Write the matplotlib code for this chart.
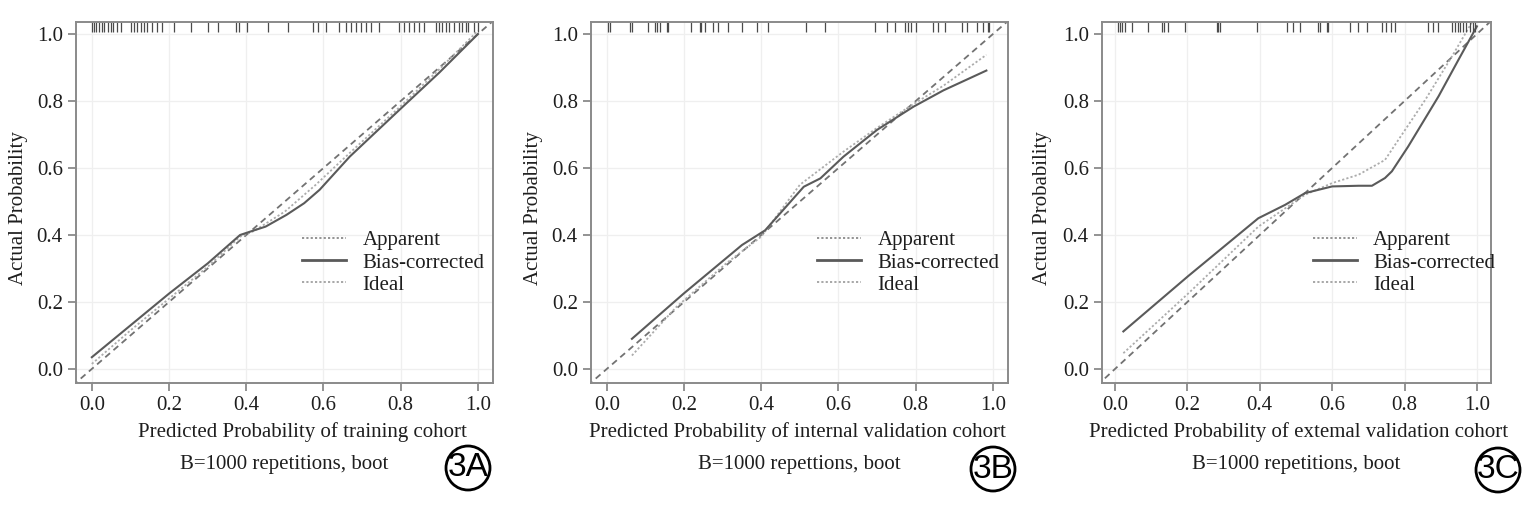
import numpy as np
import matplotlib
matplotlib.use("Agg")
import matplotlib.pyplot as plt
from matplotlib.patches import Ellipse
from matplotlib.lines import Line2D

plt.rcParams['font.family'] = ['Liberation Serif', 'DejaVu Serif']

# panel A - training cohort
a_bias_x = [0.0, 0.1, 0.2, 0.3, 0.384, 0.418, 0.45, 0.504, 0.55, 0.59, 0.668, 0.797, 0.9, 1.0]
a_bias_y = [0.035, 0.13, 0.225, 0.315, 0.40, 0.413, 0.425, 0.46, 0.495, 0.535, 0.634, 0.774, 0.885, 1.0]
a_app_x = [0.0, 0.1, 0.2, 0.3, 0.384, 0.42, 0.5, 0.58, 0.668, 0.8, 0.9, 1.0]
a_app_y = [0.015, 0.115, 0.21, 0.305, 0.395, 0.412, 0.47, 0.55, 0.645, 0.785, 0.895, 1.01]
a_rug = [0, .006, .012, .019, .026, .032, .041, .049, .054, .066, .075, .101, .11, .118, .127,
         .136, .144, .157, .17, .183, .212, .256, .30, .328, .373, .382, .403, .455, .507, .573,
         .585, .606, .641, .658, .671, .684, .697, .71, .723, .744, .796, .809, .822, .835, .848,
         .861, .891, .90, .908, .917, .926, .939, .952, .96, .969, .973, .99, 1.0]

# panel B - internal validation cohort
b_bias_x = [0.065, 0.199, 0.35, 0.41, 0.51, 0.553, 0.613, 0.70, 0.794, 0.872, 0.983]
b_bias_y = [0.09, 0.225, 0.37, 0.414, 0.544, 0.569, 0.634, 0.714, 0.783, 0.832, 0.891]
b_app_x = [0.065, 0.18, 0.31, 0.40, 0.50, 0.613, 0.70, 0.786, 0.872, 0.983]
b_app_y = [0.04, 0.185, 0.316, 0.395, 0.55, 0.649, 0.72, 0.785, 0.846, 0.938]
b_rug = [.003, .008, .06, .064, .107, .124, .129, .137, .155, .159, .219, .241, .245, .254,
         .275, .288, .314, .349, .388, .418, .517, .565, .694, .725, .746, .772, .781, .789,
         .802, .845, .858, .876, .919, .932, .958, .975, .988, .99]

# panel C - external validation cohort
c_bias_x = [0.023, 0.203, 0.396, 0.47, 0.525, 0.60, 0.673, 0.71, 0.746, 0.765, 0.81, 0.894, 0.949, 1.0]
c_bias_y = [0.112, 0.278, 0.45, 0.49, 0.525, 0.545, 0.547, 0.547, 0.57, 0.59, 0.664, 0.814, 0.923, 1.023]
c_app_x = [0.023, 0.203, 0.396, 0.525, 0.60, 0.673, 0.746, 0.783, 0.857, 0.931, 0.977, 1.0]
c_app_y = [0.047, 0.226, 0.425, 0.52, 0.555, 0.58, 0.624, 0.684, 0.803, 0.933, 1.018, 1.06]
c_rug = [.009, .014, .018, .028, .046, .092, .129, .134, .147, .193, .281, .285, .29, .391,
         .474, .493, .511, .562, .566, .585, .589, .649, .672, .695, .737, .75, .764, .773,
         .866, .879, .893, .93, .939, .948, .953, .962, .971, .981, .99, .994]

ticks = [0.0, 0.2, 0.4, 0.6, 0.8, 1.0]
tick_labels = ['0.0', '0.2', '0.4', '0.6', '0.8', '1.0']
legend_labels = ['Apparent', 'Bias-corrected', 'Ideal']

panels = [
    dict(bias=(a_bias_x, a_bias_y), app=(a_app_x, a_app_y), rug=a_rug,
         xlabel='Predicted Probability of training cohort', sub='B=1000 repetitions, boot',
         tag='3A', pos=[76, 22, 417, 361], xlim=(-0.041, 1.039), xlab_x=0.542, ylab_x=-0.139,
         tag_c=(468, 468)),
    dict(bias=(b_bias_x, b_bias_y), app=(b_app_x, b_app_y), rug=b_rug,
         xlabel='Predicted Probability of internal validation cohort', sub='B=1000 repettions, boot',
         tag='3B', pos=[591, 22, 417, 361], xlim=(-0.041, 1.039), xlab_x=0.495, ylab_x=-0.139,
         tag_c=(993, 469)),
    dict(bias=(c_bias_x, c_bias_y), app=(c_app_x, c_app_y), rug=c_rug,
         xlabel='Predicted Probability of extemal validation cohort', sub='B=1000 repetitions, boot',
         tag='3C', pos=[1102, 22, 389, 361], xlim=(-0.036, 1.039), xlab_x=0.505, ylab_x=-0.152,
         tag_c=(1498, 470)),
]

W, H = 1540, 525
fig = plt.figure(figsize=(W / 100, H / 100), dpi=100)

spine_col = '#8a8a8a'
txt_col = '#1e1e1e'
for p in panels:
    l, t, w, h = p['pos']
    ax = fig.add_axes([l / W, (H - t - h) / H, w / W, h / H])
    ax.set_xlim(*p['xlim'])
    ax.set_ylim(-0.042, 1.036)
    ax.set_xticks(ticks)
    ax.set_xticklabels(tick_labels)
    ax.set_yticks(ticks)
    ax.set_yticklabels(tick_labels)
    ax.grid(True, color='#efefef', lw=0.9)
    ax.set_axisbelow(True)
    for s in ax.spines.values():
        s.set_color(spine_col)
        s.set_linewidth(1.4)
    ax.tick_params(length=6, width=1.3, color=spine_col, labelsize=15, pad=3.5, labelcolor=txt_col)

    ax.plot([-0.05, 1.05], [-0.05, 1.05], color='#727272', lw=1.3, ls=(0, (3.5, 2.5)))
    ax.plot(*p['app'], color='#acacac', lw=1.3, ls=(0, (1.2, 1.2)))
    ax.plot(*p['bias'], color='#5a5a5a', lw=1.5)

    ax.vlines(p['rug'], 0.972, 1.0, transform=ax.get_xaxis_transform(), color='#4a4a4a', lw=0.9)

    ax.set_xlabel(p['xlabel'], fontsize=15, color=txt_col, va='center')
    ax.xaxis.set_label_coords(p['xlab_x'], -0.136)
    ax.set_ylabel('Actual Probability', fontsize=15, color=txt_col, va='center')
    ax.yaxis.set_label_coords(p['ylab_x'], 0.485)

    handles = [Line2D([], [], color='#8a8a8a', lw=1.3, ls=(0, (1.2, 1.2))),
               Line2D([], [], color='#5a5a5a', lw=2.0),
               Line2D([], [], color='#a0a0a0', lw=1.3, ls=(0, (1.2, 1.2)))]
    ax.legend(handles, legend_labels, loc='center left', bbox_to_anchor=(0.542, 0.333),
              frameon=False, fontsize=15, handlelength=2.1, handletextpad=0.8,
              labelspacing=0.12, borderpad=0, borderaxespad=0, labelcolor=txt_col)

    cx = (l + w / 2) / W
    fig.text(cx, (H - 464) / H, p['sub'], ha='center', va='center', fontsize=15, color=txt_col)

    tx, ty = p['tag_c']
    fig.patches.append(Ellipse((tx / W, (H - ty) / H), 44 / W, 44 / H, transform=fig.transFigure,
                               fill=False, ec='black', lw=2))
    fig.text(tx / W, (H - ty) / H, p['tag'], ha='center', va='center', fontsize=24,
             family=['Liberation Sans', 'DejaVu Sans'], color='black')

fig.savefig('out.png', dpi=100)
